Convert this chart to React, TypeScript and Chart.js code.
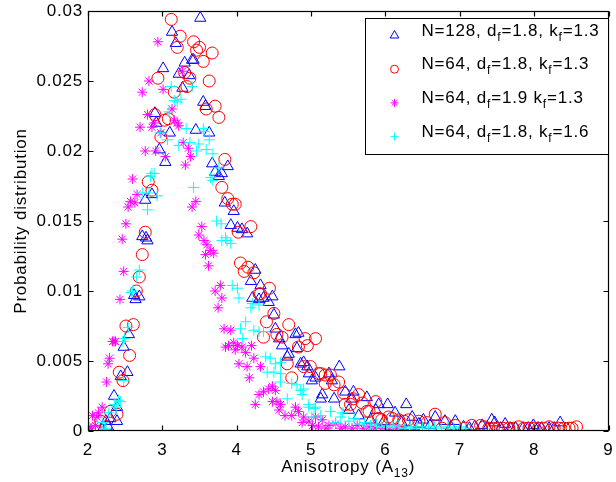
import React, { useEffect, useRef } from 'react';
import { Chart, registerables } from 'chart.js';

Chart.register(...registerables);

const X_TICKS = [2, 3, 4, 5, 6, 7, 8, 9];
const Y_TICKS = [0, 0.005, 0.01, 0.015, 0.02, 0.025, 0.03];
const Y_TICK_LABELS = ['0', '0.005', '0.01', '0.015', '0.02', '0.025', '0.03'];
const X_TITLE = 'Anisotropy (A_{13})';
const Y_TITLE = 'Probability distribution';
const SERIES_LABELS = [
  'N=128, d_{f}=1.8, k_{f}=1.3',
  'N=64, d_{f}=1.8, k_{f}=1.3',
  'N=64, d_{f}=1.9 k_{f}=1.3',
  'N=64, d_{f}=1.8, k_{f}=1.6',
];

// N=128, df=1.8, kf=1.3  (blue triangles)
const n128df18kf13 = [
  [2.19, 0.0001], [2.24, 0.0007], [2.27, 0.0003], [2.30, 0.0009], [2.35, 0.0025], [2.39, 0.0017], [2.39, 0.0007],
  [2.44, 0.0039], [2.48, 0.0060], [2.53, 0.0042], [2.55, 0.0069], [2.62, 0.0097], [2.64, 0.0094], [2.69, 0.0096],
  [2.73, 0.0139], [2.78, 0.0138], [2.80, 0.0136], [2.77, 0.0165], [2.86, 0.0169], [2.90, 0.0227], [2.92, 0.0220],
  [2.96, 0.0201], [3.01, 0.0259], [3.04, 0.0192], [3.10, 0.0213], [3.13, 0.0285], [3.18, 0.0277], [3.22, 0.0255],
  [3.27, 0.0245], [3.30, 0.0263], [3.36, 0.0254], [3.40, 0.0265], [3.42, 0.0265], [3.45, 0.0215], [3.51, 0.0295],
  [3.55, 0.0235], [3.58, 0.0232], [3.63, 0.0213], [3.67, 0.0191], [3.71, 0.0185], [3.76, 0.0182], [3.80, 0.0184],
  [3.84, 0.0163], [3.88, 0.0189], [3.92, 0.0147], [3.96, 0.0157], [4.01, 0.0145], [4.07, 0.0144], [4.14, 0.0141],
  [4.19, 0.0107], [4.21, 0.0095], [4.25, 0.0115], [4.30, 0.0094], [4.32, 0.0104], [4.36, 0.0095], [4.43, 0.0092],
  [4.48, 0.0096], [4.50, 0.0083], [4.52, 0.0073], [4.57, 0.0066], [4.61, 0.0061], [4.68, 0.0053], [4.70, 0.0055],
  [4.79, 0.0069], [4.81, 0.0059], [4.83, 0.0070], [4.86, 0.0048], [4.90, 0.0049], [4.95, 0.0046], [4.97, 0.0041],
  [5.01, 0.0036], [5.06, 0.0038], [5.13, 0.0023], [5.15, 0.0026], [5.24, 0.0041], [5.28, 0.0036], [5.31, 0.0023],
  [5.38, 0.0046], [5.46, 0.0028], [5.51, 0.0015], [5.55, 0.0023], [5.57, 0.0028], [5.64, 0.0011], [5.75, 0.0024],
  [5.80, 0.0008], [5.87, 0.0015], [5.91, 0.0019], [5.98, 0.0007], [6.03, 0.0019], [6.13, 0.0013], [6.22, 0.0006],
  [6.28, 0.0019], [6.36, 0.0010], [6.45, 0.0005], [6.51, 0.0008], [6.60, 0.0004], [6.67, 0.0010], [6.80, 0.0007],
  [6.88, 0.0003], [6.94, 0.0007], [7.05, 0.0003], [7.13, 0.0002], [7.20, 0.0003], [7.30, 0.0004], [7.37, 0.0002],
  [7.43, 0.0008], [7.47, 0.0006], [7.55, 0.0002], [7.61, 0.0005], [7.68, 0.0002], [7.75, 0.0002], [7.85, 0.0002],
  [7.92, 0.0002], [7.99, 0.0004], [8.05, 0.0002], [8.10, 0.0002], [8.20, 0.0002], [8.27, 0.0002], [8.35, 0.0006],
];

// N=64, df=1.8, kf=1.3  (red circles)
const n64df18kf13 = [
  [2.17, 0.0007], [2.24, 0.0003], [2.30, 0.0014], [2.39, 0.0012], [2.42, 0.0042], [2.47, 0.0036], [2.51, 0.0075],
  [2.56, 0.0054], [2.61, 0.0076], [2.65, 0.0100], [2.69, 0.0110], [2.73, 0.0126], [2.77, 0.0142], [2.81, 0.0178],
  [2.86, 0.0172], [2.90, 0.0226], [2.94, 0.0252], [2.98, 0.0210], [3.03, 0.0222], [3.08, 0.0223], [3.12, 0.0294],
  [3.16, 0.0242], [3.20, 0.0274], [3.24, 0.0282], [3.30, 0.0256], [3.33, 0.0246], [3.37, 0.0252], [3.42, 0.0278],
  [3.46, 0.0272], [3.50, 0.0274], [3.55, 0.0264], [3.59, 0.0230], [3.63, 0.0250], [3.67, 0.0270], [3.71, 0.0232],
  [3.76, 0.0224], [3.80, 0.0174], [3.84, 0.0194], [3.88, 0.0166], [3.94, 0.0162], [3.98, 0.0162], [4.02, 0.0142],
  [4.05, 0.0120], [4.10, 0.0114], [4.15, 0.0117], [4.19, 0.0146], [4.23, 0.0113], [4.30, 0.0098], [4.32, 0.0098],
  [4.36, 0.0067], [4.40, 0.0078], [4.44, 0.0102], [4.50, 0.0084], [4.54, 0.0069], [4.61, 0.0067], [4.68, 0.0048],
  [4.70, 0.0076], [4.74, 0.0038], [4.83, 0.0060], [4.90, 0.0046], [4.92, 0.0066], [4.95, 0.0061], [4.99, 0.0046],
  [5.06, 0.0066], [5.10, 0.0041], [5.13, 0.0041], [5.19, 0.0040], [5.19, 0.0034], [5.26, 0.0040], [5.31, 0.0033],
  [5.37, 0.0035], [5.44, 0.0027], [5.46, 0.0019], [5.53, 0.0019], [5.57, 0.0023], [5.64, 0.0026], [5.69, 0.0020],
  [5.75, 0.0014], [5.78, 0.0014], [5.87, 0.0021], [5.91, 0.0009], [5.95, 0.0008], [6.04, 0.0010], [6.09, 0.0009],
  [6.18, 0.0008], [6.25, 0.0007], [6.31, 0.0008], [6.45, 0.0007], [6.56, 0.0006], [6.67, 0.0012], [6.76, 0.0002],
  [6.80, 0.0006], [6.94, 0.0004], [7.07, 0.0002], [7.16, 0.0004], [7.28, 0.0004], [7.33, 0.0003], [7.39, 0.0002],
  [7.45, 0.0002], [7.52, 0.0002], [7.58, 0.0002], [7.66, 0.0002], [7.72, 0.0002], [7.79, 0.0003], [7.86, 0.0002],
  [7.93, 0.0002], [8.00, 0.0002], [8.06, 0.0002], [8.13, 0.0002], [8.20, 0.0003], [8.27, 0.0002], [8.33, 0.0002],
  [8.40, 0.0002], [8.47, 0.0002], [8.51, 0.0002], [8.57, 0.0003],
];

// N=64, df=1.9, kf=1.3  (magenta stars)
const n64df19kf13 = [
  [2.01, 0.0003], [2.04, 0.0002], [2.06, 0.0011], [2.10, 0.0004], [2.12, 0.0010], [2.14, 0.0013], [2.19, 0.0017],
  [2.25, 0.0035], [2.27, 0.0048], [2.29, 0.0052], [2.33, 0.0064], [2.35, 0.0064], [2.37, 0.0064], [2.43, 0.0094],
  [2.46, 0.0137], [2.48, 0.0114], [2.51, 0.0148], [2.54, 0.0160], [2.57, 0.0164], [2.60, 0.0180], [2.63, 0.0163],
  [2.66, 0.0169], [2.70, 0.0217], [2.73, 0.0242], [2.77, 0.0200], [2.80, 0.0226], [2.82, 0.0250], [2.86, 0.0217],
  [2.89, 0.0220], [2.91, 0.0200], [2.94, 0.0278], [2.98, 0.0213], [3.01, 0.0244], [3.04, 0.0196], [3.13, 0.0230],
  [3.16, 0.0222], [3.20, 0.0220], [3.22, 0.0218], [3.27, 0.0257], [3.28, 0.0206], [3.31, 0.0190], [3.35, 0.0202],
  [3.38, 0.0196], [3.40, 0.0160], [3.45, 0.0164], [3.49, 0.0140], [3.53, 0.0146], [3.56, 0.0136], [3.58, 0.0126],
  [3.60, 0.0133], [3.62, 0.0118], [3.65, 0.0129], [3.69, 0.0127], [3.71, 0.0100], [3.75, 0.0088], [3.78, 0.0104],
  [3.80, 0.0095], [3.83, 0.0073], [3.85, 0.0060], [3.89, 0.0061], [3.92, 0.0072], [3.96, 0.0063], [3.98, 0.0058],
  [4.01, 0.0061], [4.03, 0.0048], [4.07, 0.0060], [4.12, 0.0056], [4.14, 0.0046], [4.17, 0.0038], [4.20, 0.0061],
  [4.23, 0.0052], [4.25, 0.0019], [4.30, 0.0026], [4.32, 0.0046], [4.36, 0.0028], [4.43, 0.0030], [4.48, 0.0032],
  [4.48, 0.0021], [4.52, 0.0029], [4.54, 0.0021], [4.57, 0.0015], [4.59, 0.0019], [4.65, 0.0011], [4.74, 0.0011],
  [4.79, 0.0017], [4.83, 0.0014], [4.88, 0.0006], [4.90, 0.0010], [4.97, 0.0007], [5.02, 0.0004], [5.06, 0.0010],
  [5.10, 0.0003], [5.15, 0.0008], [5.20, 0.0002], [5.24, 0.0004], [5.33, 0.0005], [5.40, 0.0002], [5.46, 0.0003],
  [5.55, 0.0002], [5.62, 0.0004], [5.70, 0.0002], [5.78, 0.0003], [5.86, 0.0002], [5.95, 0.0002], [6.05, 0.0001],
  [6.15, 0.0002], [6.25, 0.0001], [6.40, 0.0001],
];

// N=64, df=1.8, kf=1.6  (cyan crosses)
const n64df18kf16 = [
  [2.19, 0.0006], [2.22, 0.0001], [2.24, 0.0002], [2.28, 0.0013], [2.36, 0.0019], [2.38, 0.0017], [2.41, 0.0022],
  [2.44, 0.0021], [2.48, 0.0036], [2.47, 0.0064], [2.49, 0.0066], [2.54, 0.0074], [2.58, 0.0099], [2.60, 0.0100],
  [2.65, 0.0110], [2.69, 0.0115], [2.73, 0.0170], [2.80, 0.0158], [2.82, 0.0170], [2.84, 0.0182], [2.86, 0.0184],
  [2.89, 0.0184], [2.93, 0.0168], [2.97, 0.0213], [3.07, 0.0208], [3.09, 0.0228], [3.12, 0.0246], [3.16, 0.0236],
  [3.20, 0.0235], [3.22, 0.0204], [3.25, 0.0237], [3.32, 0.0216], [3.37, 0.0206], [3.40, 0.0246], [3.42, 0.0174],
  [3.46, 0.0200], [3.49, 0.0205], [3.55, 0.0216], [3.56, 0.0214], [3.59, 0.0201], [3.63, 0.0208], [3.65, 0.0181],
  [3.68, 0.0198], [3.68, 0.0179], [3.73, 0.0150], [3.76, 0.0188], [3.79, 0.0148], [3.80, 0.0136], [3.85, 0.0138],
  [3.87, 0.0136], [3.92, 0.0134], [3.94, 0.0104], [4.01, 0.0102], [4.03, 0.0095], [4.05, 0.0073], [4.08, 0.0066],
  [4.12, 0.0078], [4.19, 0.0088], [4.21, 0.0091], [4.23, 0.0072], [4.30, 0.0090], [4.30, 0.0071], [4.36, 0.0071],
  [4.39, 0.0053], [4.41, 0.0042], [4.45, 0.0052], [4.50, 0.0042], [4.52, 0.0048], [4.59, 0.0049], [4.59, 0.0041],
  [4.59, 0.0035], [4.68, 0.0023], [4.74, 0.0034], [4.81, 0.0033], [4.86, 0.0029], [4.88, 0.0026], [4.90, 0.0030],
  [4.97, 0.0017], [4.97, 0.0019], [5.01, 0.0010], [5.04, 0.0016], [5.06, 0.0017], [5.13, 0.0011], [5.26, 0.0014],
  [5.33, 0.0006], [5.40, 0.0010], [5.42, 0.0013], [5.51, 0.0007], [5.58, 0.0009], [5.65, 0.0005], [5.72, 0.0006],
  [5.80, 0.0004], [5.88, 0.0005], [5.95, 0.0003], [6.02, 0.0004], [6.10, 0.0003], [6.18, 0.0004], [6.26, 0.0002],
  [6.34, 0.0003], [6.42, 0.0002], [6.50, 0.0003], [6.58, 0.0002], [6.66, 0.0003], [6.75, 0.0002], [6.84, 0.0003],
  [6.92, 0.0002], [7.00, 0.0003], [7.08, 0.0002],
];

const SERIES = [n128df18kf13, n64df18kf13, n64df19kf13, n64df18kf16];
const COLORS = ['#0000ff', '#ff0000', '#ff00ff', '#00ffff'];
const STYLES = ['triangle', 'circle', 'star', 'cross'];
const RADII = [6.5, 6, 5, 5.5];

const FONT = 'Liberation Sans, Arial, Helvetica, sans-serif';
const FS = 17;
const SUB_FS = 12;
const LS = '0.8px';

type Part = { t: string; sub: boolean };
function parseRich(s: string): Part[] {
  const out: Part[] = [];
  const re = /_\{([^}]*)\}/g;
  let last = 0;
  let m: RegExpExecArray | null;
  while ((m = re.exec(s))) {
    if (m.index > last) out.push({ t: s.slice(last, m.index), sub: false });
    out.push({ t: m[1], sub: true });
    last = re.lastIndex;
  }
  if (last < s.length) out.push({ t: s.slice(last), sub: false });
  return out;
}
function richWidth(ctx: CanvasRenderingContext2D, parts: Part[]) {
  let w = 0;
  for (const p of parts) {
    ctx.font = `${p.sub ? SUB_FS : FS}px ${FONT}`;
    w += ctx.measureText(p.t).width;
  }
  return w;
}
function drawRich(ctx: CanvasRenderingContext2D, s: string, x: number, y: number, align: 'left' | 'center') {
  const parts = parseRich(s);
  let cx = align === 'center' ? x - richWidth(ctx, parts) / 2 : x;
  ctx.textAlign = 'left';
  ctx.textBaseline = 'alphabetic';
  for (const p of parts) {
    ctx.font = `${p.sub ? SUB_FS : FS}px ${FONT}`;
    ctx.fillText(p.t, cx, p.sub ? y + 5 : y);
    cx += ctx.measureText(p.t).width;
  }
}

function drawMarker(ctx: CanvasRenderingContext2D, style: string, x: number, y: number, r: number, color: string) {
  ctx.save();
  ctx.strokeStyle = color;
  ctx.lineWidth = 1;
  ctx.beginPath();
  if (style === 'triangle') {
    let rad = 0;
    ctx.moveTo(x + Math.sin(rad) * r, y - Math.cos(rad) * r);
    rad += (2 * Math.PI) / 3;
    ctx.lineTo(x + Math.sin(rad) * r, y - Math.cos(rad) * r);
    rad += (2 * Math.PI) / 3;
    ctx.lineTo(x + Math.sin(rad) * r, y - Math.cos(rad) * r);
    ctx.closePath();
  } else if (style === 'circle') {
    ctx.arc(x, y, r, 0, Math.PI * 2);
  } else if (style === 'star') {
    for (let i = 0; i < 4; i++) {
      const a = (i * Math.PI) / 4;
      ctx.moveTo(x - Math.cos(a) * r, y - Math.sin(a) * r);
      ctx.lineTo(x + Math.cos(a) * r, y + Math.sin(a) * r);
    }
  } else {
    ctx.moveTo(x - r, y);
    ctx.lineTo(x + r, y);
    ctx.moveTo(x, y - r);
    ctx.lineTo(x, y + r);
  }
  ctx.stroke();
  ctx.restore();
}

const framePlugin = {
  id: 'matlabFrame',
  beforeDraw(chart: any) {
    const ctx = chart.ctx as CanvasRenderingContext2D;
    (ctx as any).letterSpacing = LS;
    ctx.save();
    ctx.fillStyle = '#ffffff';
    ctx.fillRect(0, 0, chart.width, chart.height);
    ctx.restore();
  },
  afterDraw(chart: any) {
    const ctx = chart.ctx as CanvasRenderingContext2D;
    const a = chart.chartArea;
    const xs = chart.scales.x;
    const ys = chart.scales.y;
    ctx.save();
    (ctx as any).letterSpacing = LS;
    ctx.strokeStyle = '#000';
    ctx.lineWidth = 1.2;
    const L = Math.round(a.left) + 0.5;
    const R = Math.round(a.right) - 0.5;
    const T = Math.round(a.top) + 0.5;
    const B = Math.round(a.bottom) - 0.5;
    ctx.strokeRect(L, T, R - L, B - T);
    const tl = 5;
    ctx.beginPath();
    for (const v of X_TICKS) {
      const px = Math.round(xs.getPixelForValue(v)) + 0.5;
      ctx.moveTo(px, B);
      ctx.lineTo(px, B - tl);
      ctx.moveTo(px, T);
      ctx.lineTo(px, T + tl);
    }
    for (const v of Y_TICKS) {
      const py = Math.round(ys.getPixelForValue(v)) + 0.5;
      ctx.moveTo(L, py);
      ctx.lineTo(L + tl, py);
      ctx.moveTo(R, py);
      ctx.lineTo(R - tl, py);
    }
    ctx.stroke();

    // legend
    const lw = 243;
    const lh = 136;
    const lx = Math.round(a.right) - 1 - lw + 0.5;
    const ly = Math.round(a.top) + 7 + 0.5;
    ctx.fillStyle = '#ffffff';
    ctx.fillRect(lx, ly, lw, lh);
    ctx.lineWidth = 1;
    ctx.strokeStyle = '#000';
    ctx.strokeRect(lx, ly, lw, lh);
    const legendR = [5, 4, 4, 4];
    SERIES_LABELS.forEach((lab, i) => {
      const rowY = ly + 17 + i * 33.7;
      drawMarker(ctx, STYLES[i], lx + 29, rowY, legendR[i], COLORS[i]);
      ctx.fillStyle = '#000';
      drawRich(ctx, lab, lx + 56, rowY, 'left');
    });

    // axis titles
    ctx.fillStyle = '#000';
    drawRich(ctx, X_TITLE, (a.left + a.right) / 2, 472, 'center');
    ctx.save();
    ctx.translate(26, (a.top + a.bottom) / 2);
    ctx.rotate(-Math.PI / 2);
    drawRich(ctx, Y_TITLE, 0, 0, 'center');
    ctx.restore();
    ctx.restore();
  },
};

function zeroPadding(s: any) {
  s.paddingLeft = 0;
  s.paddingRight = 0;
  s.paddingTop = 0;
  s.paddingBottom = 0;
}

export default function App() {
  const ref = useRef<HTMLCanvasElement | null>(null);
  useEffect(() => {
    document.body.style.margin = '0';
    const canvas = ref.current;
    if (!canvas) return;
    const tickFont = { family: FONT, size: FS };
    const chart = new Chart(canvas, {
      type: 'scatter',
      data: {
        datasets: SERIES.map((s, i) => ({
          label: SERIES_LABELS[i],
          data: s.map(([x, y]) => ({ x, y })),
          pointStyle: STYLES[i] as any,
          pointRadius: RADII[i],
          pointHoverRadius: RADII[i],
          borderColor: COLORS[i],
          backgroundColor: 'rgba(0,0,0,0)',
          pointBorderWidth: 1,
          borderWidth: 1,
          showLine: false,
          order: 3 - i,
        })),
      },
      options: {
        animation: false,
        responsive: false,
        maintainAspectRatio: false,
        events: [],
        layout: { padding: { left: 0, right: 6, top: 11, bottom: 0 } },
        plugins: { legend: { display: false }, tooltip: { enabled: false }, title: { display: false } },
        scales: {
          x: {
            type: 'linear',
            min: 2,
            max: 9,
            grid: { display: false, drawTicks: false },
            border: { display: false },
            ticks: { font: tickFont, color: '#000', padding: 9, maxRotation: 0, autoSkip: false, callback: (v: any) => String(v) },
            afterBuildTicks: (s: any) => {
              s.ticks = X_TICKS.map((v) => ({ value: v }));
            },
            afterFit: (s: any) => {
              s.height = 51;
              zeroPadding(s);
            },
          },
          y: {
            type: 'linear',
            min: 0,
            max: 0.03,
            grid: { display: false, drawTicks: false },
            border: { display: false },
            ticks: {
              font: tickFont,
              color: '#000',
              padding: 5,
              autoSkip: false,
              callback: (v: any, idx: number) => Y_TICK_LABELS[idx],
            },
            afterBuildTicks: (s: any) => {
              s.ticks = Y_TICKS.map((v) => ({ value: v }));
            },
            afterFit: (s: any) => {
              s.width = 88;
              zeroPadding(s);
            },
          },
        },
      },
      plugins: [framePlugin],
    });
    return () => chart.destroy();
  }, []);
  return <canvas ref={ref} width={616} height={482} style={{ display: 'block' }} />;
}
